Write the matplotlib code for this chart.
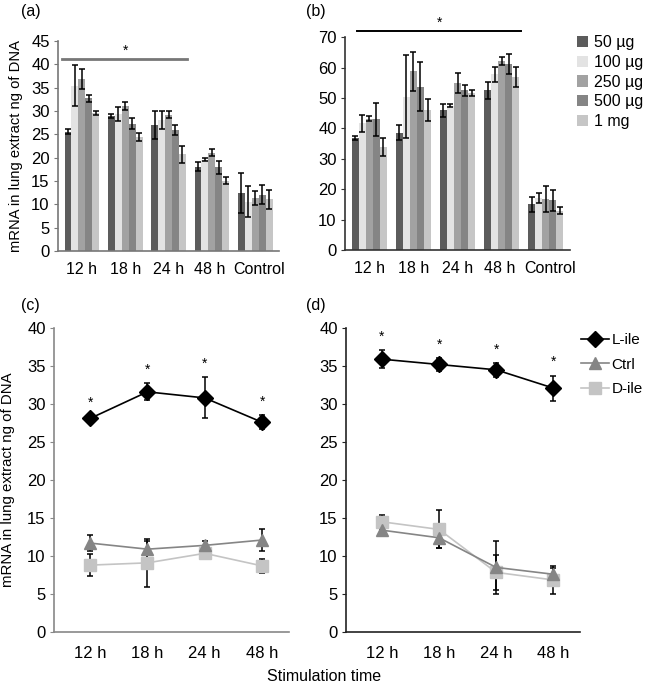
import numpy as np
import matplotlib
matplotlib.use('Agg')
import matplotlib.pyplot as plt
from matplotlib.lines import Line2D
from matplotlib.transforms import ScaledTranslation

plt.rcParams['font.family'] = ['Liberation Sans', 'DejaVu Sans']

# Data, panels (a) and (b): dose response bars
groups = ['12 h', '18 h', '24 h', '48 h', 'Control']
doses = ['50 µg', '100 µg', '250 µg', '500 µg', '1 mg']

a_vals = [
    [25.6, 35.4, 36.9, 32.7, 29.6],
    [28.9, 29.4, 31.1, 27.3, 24.4],
    [26.9, 28.0, 29.2, 26.0, 20.7],
    [18.1, 19.6, 21.1, 17.9, 15.1],
    [12.5, 10.6, 11.4, 12.1, 11.1],
]
a_err = [
    [0.5, 4.4, 2.1, 0.8, 0.4],
    [0.5, 1.5, 0.85, 1.2, 0.9],
    [3.0, 1.9, 0.7, 1.1, 1.75],
    [0.9, 0.4, 0.7, 1.4, 0.7],
    [4.3, 3.4, 1.5, 2.0, 2.0],
]
b_vals = [
    [36.8, 41.7, 43.2, 43.0, 34.0],
    [38.6, 50.4, 58.8, 53.7, 46.0],
    [46.0, 47.5, 55.0, 52.6, 51.7],
    [52.6, 57.8, 62.2, 61.1, 56.9],
    [15.0, 17.2, 16.8, 16.4, 13.0],
]
b_err = [
    [0.6, 2.7, 0.8, 5.4, 3.0],
    [2.4, 13.7, 6.4, 8.1, 3.6],
    [2.1, 0.6, 3.2, 1.8, 1.1],
    [2.8, 2.5, 1.4, 3.3, 3.4],
    [2.5, 1.7, 4.4, 3.4, 1.1],
]

# Data, panels (c) and (d): time course
times = ['12 h', '18 h', '24 h', '48 h']
c_lile = [28.1, 31.6, 30.8, 27.6]
c_lile_err = [0.3, 1.1, 2.7, 0.9]
c_ctrl = [11.7, 10.9, 11.4, 12.1]
c_ctrl_err = [1.05, 1.1, 0.6, 1.4]
c_dile = [8.8, 9.1, 10.35, 8.7]
c_dile_err = [1.45, 3.2, 0.8, 0.9]

d_lile = [35.9, 35.2, 34.5, 32.1]
d_lile_err = [1.2, 0.85, 0.9, 1.65]
d_ctrl = [13.4, 12.4, 8.5, 7.6]
d_ctrl_err = [0.3, 1.3, 3.5, 0.8]
d_dile = [14.5, 13.5, 7.85, 6.85]
d_dile_err = [0.9, 2.5, 2.3, 1.8]

bar_colors = ['#5c5c5c', '#e3e3e3', '#a2a2a2', '#858585', '#c6c6c6']
ylab = 'mRNA in lung extract ng of DNA'
fs = 11.5
tfs = 12

fig = plt.figure(figsize=(6.49, 6.92), dpi=100)


def style_axis(ax, spine_color):
    for s in ['top', 'right']:
        ax.spines[s].set_visible(False)
    for s in ['left', 'bottom']:
        ax.spines[s].set_color(spine_color)
        ax.spines[s].set_linewidth(1.2)
    ax.tick_params(axis='y', length=3, color=spine_color, labelsize=tfs, pad=3)
    ax.tick_params(axis='x', length=0, labelsize=tfs, pad=8)


def bar_panel(ax, vals, errs, ymax, ystep, spine_color):
    vals = np.array(vals)
    errs = np.array(errs)
    x = np.arange(len(groups))
    w = 0.16
    for j in range(len(doses)):
        ax.bar(x - 0.4 + w * (j + 0.5), vals[:, j], w, color=bar_colors[j],
               label=doses[j], yerr=errs[:, j], capsize=2,
               error_kw=dict(ecolor='black', elinewidth=1.1, capthick=1.1))
    ax.set_xlim(-0.55, len(groups) - 0.45)
    ax.set_ylim(0, ymax)
    ax.set_yticks(np.arange(0, ymax + 1, ystep))
    ax.set_xticks(x)
    ax.set_xticklabels(groups)
    style_axis(ax, spine_color)
    ax.tick_params(axis='x', labelsize=11.5)
    # nudge labels like the original: 48 h a bit left, Control a bit right
    shifts = [0, 0, 0, -2, 4]
    for lab, dx in zip(ax.get_xticklabels(), shifts):
        lab.set_transform(lab.get_transform() +
                          ScaledTranslation(dx / 100, 0, fig.dpi_scale_trans))


# (a)
ax_a = fig.add_axes([0.0894, 0.6373, 0.3405, 0.3035])
bar_panel(ax_a, a_vals, a_err, 45, 5, '#777777')
ax_a.set_ylabel(ylab, fontsize=10.6, labelpad=6)
ax_a.plot([-0.45, 2.42], [41.1, 41.1], color='#777777', lw=2, clip_on=False)
ax_a.text(1.0, 41.3, '*', ha='center', va='bottom', fontsize=10)

# (b)
ax_b = fig.add_axes([0.5316, 0.6387, 0.3467, 0.3074])
bar_panel(ax_b, b_vals, b_err, 70, 10, '#333333')
ax_b.plot([-0.27, 3.45], [72.2, 72.2], color='black', lw=1.4, clip_on=False)
ax_b.text(1.6, 72.5, '*', ha='center', va='bottom', fontsize=10)
ax_b.legend(loc='upper left', bbox_to_anchor=(577 / 649, 1 - 35 / 692),
            bbox_transform=fig.transFigure, frameon=False,
            fontsize=fs, handlelength=0.7, handleheight=0.7,
            handletextpad=0.35, labelspacing=0.3, borderaxespad=0,
            borderpad=0)


def line_panel(ax, lile, lile_e, ctrl, ctrl_e, dile, dile_e, spine_color):
    x = np.arange(len(times))
    ekw = dict(ecolor='black', elinewidth=1.1, capsize=2.5, capthick=1.1)
    ax.errorbar(x, dile, yerr=dile_e, color='#c4c4c4', marker='s', ms=8,
                lw=1.2, label='D-ile', **ekw)
    ax.errorbar(x, ctrl, yerr=ctrl_e, color='#858585', marker='^', ms=9,
                lw=1.2, label='Ctrl', **ekw)
    ax.errorbar(x, lile, yerr=lile_e, color='black', marker='D', ms=8,
                lw=1.2, label='L-ile', **ekw)
    for xi, v, e in zip(x, lile, lile_e):
        ax.text(xi, v + e + 1.8, '*', ha='center', va='center', fontsize=10)
    ax.set_xlim(-0.63, len(times) - 0.53)
    ax.set_ylim(0, 40)
    ax.set_yticks(np.arange(0, 41, 5))
    ax.set_xticks(x)
    ax.set_xticklabels(times)
    style_axis(ax, spine_color)
    ax.tick_params(axis='x', pad=10)


# (c)
ax_c = fig.add_axes([0.0832, 0.0867, 0.3621, 0.4393])
line_panel(ax_c, c_lile, c_lile_err, c_ctrl, c_ctrl_err, c_dile, c_dile_err,
           '#888888')
ax_c.set_ylabel(ylab, fontsize=10.8, labelpad=9)

# (d)
ax_d = fig.add_axes([0.5331, 0.0867, 0.3606, 0.4393])
line_panel(ax_d, d_lile, d_lile_err, d_ctrl, d_ctrl_err, d_dile, d_dile_err,
           '#222222')
handles = [
    Line2D([], [], color='black', marker='D', ms=8, lw=1.2),
    Line2D([], [], color='#858585', marker='^', ms=9, lw=1.2),
    Line2D([], [], color='#c4c4c4', marker='s', ms=8, lw=1.2),
]
ax_d.legend(handles, ['L-ile', 'Ctrl', 'D-ile'], loc='upper left',
            bbox_to_anchor=(581 / 649, 1 - 333 / 692),
            bbox_transform=fig.transFigure, frameon=False, fontsize=11,
            handlelength=1.8, handletextpad=0.2, labelspacing=0.7,
            borderaxespad=0, borderpad=0)

fig.text(0.5, 0.022, 'Stimulation time', ha='center', va='center', fontsize=fs)
for lbl, xx, yy in [('(a)', 0.033, 0.984), ('(b)', 0.472, 0.984),
                    ('(c)', 0.033, 0.559), ('(d)', 0.472, 0.559)]:
    fig.text(xx, yy, lbl, ha='left', va='center', fontsize=fs)

fig.savefig('out.png', dpi=100)
